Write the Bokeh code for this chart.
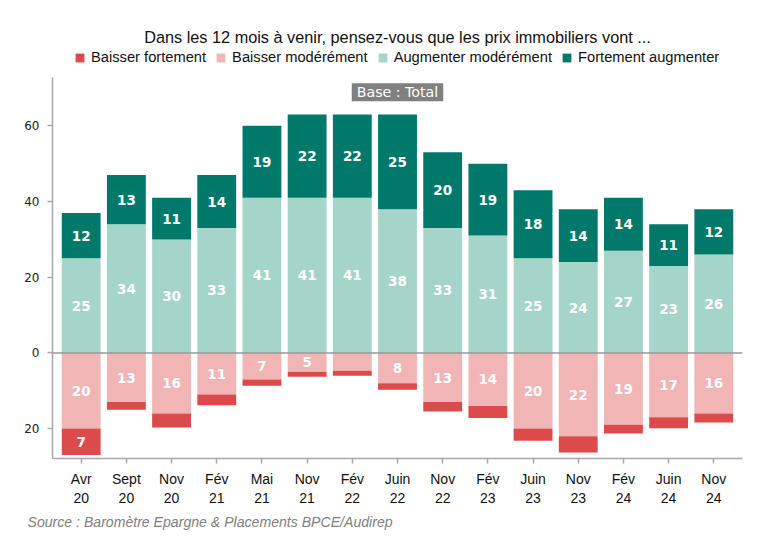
from bokeh.plotting import figure
from bokeh.models import (ColumnDataSource, FactorRange, Range1d, Legend, LegendItem,
                          Label, Span, FixedTicker, Title)
from bokeh.embed import file_html
from bokeh.resources import INLINE
from bokeh.core.properties import value

# ---------------- data ----------------
categories = ["Avr 20", "Sept 20", "Nov 20", "Fév 21", "Mai 21", "Nov 21", "Fév 22", "Juin 22",
              "Nov 22", "Fév 23", "Juin 23", "Nov 23", "Fév 24", "Juin 24", "Nov 24"]
baisser_fortement = [7, 2, 3.7, 2.8, 1.7, 1.3, 1.3, 1.7, 2.5, 3.2, 3.2, 4.3, 2.3, 2.9, 2.4]
baisser_moderement = [20, 13, 16, 11, 7, 5, 4.7, 8, 13, 14, 20, 22, 19, 17, 16]
augmenter_moderement = [25, 34, 30, 33, 41, 41, 41, 38, 33, 31, 25, 24, 27, 23, 26]
fortement_augmenter = [12, 13, 11, 14, 19, 22, 22, 25, 20, 19, 18, 14, 14, 11, 12]

series_names = ["Baisser fortement", "Baisser modérément", "Augmenter modérément", "Fortement augmenter"]
colors = ["#DD4A4C", "#F1B5B5", "#A5D5C8", "#00796B"]
title_text = "Dans les 12 mois à venir, pensez-vous que les prix immobiliers vont ..."
source_text = "Source : Baromètre Epargne & Placements BPCE/Audirep"
base_text = "Base : Total"
y_ticks = [-20, 0, 20, 40, 60]
y_axis_bounds = (-27.9, 72.8)

# ---------------- derived table ----------------
factors = [c.replace(" ", "\n") for c in categories]
am_top = augmenter_moderement
fa_top = [a + f for a, f in zip(augmenter_moderement, fortement_augmenter)]
bm_bot = [-b for b in baisser_moderement]
bf_bot = [-b - f for b, f in zip(baisser_moderement, baisser_fortement)]
src = ColumnDataSource(dict(x=factors, zero=[0] * len(factors), am_top=am_top, fa_top=fa_top,
                            bm_bot=bm_bot, bf_bot=bf_bot))

lx, ly, lt = [], [], []
for i, f in enumerate(factors):
    segs = [
        (augmenter_moderement[i], augmenter_moderement[i] / 2),
        (fortement_augmenter[i], augmenter_moderement[i] + fortement_augmenter[i] / 2),
        (baisser_moderement[i], -baisser_moderement[i] / 2),
        (baisser_fortement[i], -baisser_moderement[i] - baisser_fortement[i] / 2),
    ]
    for v, c in segs:
        if v >= 5:
            lx.append(f); ly.append(c); lt.append(str(int(round(v))))
lab_src = ColumnDataSource(dict(x=lx, y=ly, t=lt))

# ---------------- figure ----------------
# frame spans from the legend row down to the x axis; the y axis line is bounded
W, H = 745, 536
p = figure(x_range=FactorRange(factors=factors, range_padding=0.018, range_padding_units="percent"),
           y_range=Range1d(-27.9, 81.24), width=W, height=H,
           min_border_left=52, min_border_right=W - 742, min_border_top=45, min_border_bottom=H - 458,
           output_backend="svg", toolbar_location=None, outline_line_color=None,
           background_fill_color="white", border_fill_color="white")

w = 0.86
r_am = p.vbar(x="x", bottom="zero", top="am_top", width=w, source=src, fill_color=colors[2], line_color=None)
r_fa = p.vbar(x="x", bottom="am_top", top="fa_top", width=w, source=src, fill_color=colors[3], line_color=None)
r_bm = p.vbar(x="x", bottom="bm_bot", top="zero", width=w, source=src, fill_color=colors[1], line_color=None)
r_bf = p.vbar(x="x", bottom="bf_bot", top="bm_bot", width=w, source=src, fill_color=colors[0], line_color=None)

p.text(x="x", y="y", text="t", source=lab_src, text_color="white", text_font=value("DejaVu Sans"),
       text_font_style="bold", text_font_size="13.5px", text_align="center", text_baseline="middle")

p.add_layout(Span(location=0, dimension="width", line_color="#999999", line_width=1.5))

p.xgrid.visible = False
p.ygrid.visible = False

axis_gray = "#A8A8A8"
for ax in (p.xaxis[0], p.yaxis[0]):
    ax.axis_line_color = axis_gray
    ax.axis_line_width = 1.5
    ax.major_tick_line_color = axis_gray
    ax.major_tick_line_width = 1.5
    ax.major_tick_in = 0
    ax.major_tick_out = 5
    ax.minor_tick_line_color = None

p.yaxis.bounds = y_axis_bounds
p.yaxis.ticker = FixedTicker(ticks=y_ticks)
p.yaxis.major_label_overrides = {t: str(abs(t)) for t in y_ticks}
p.yaxis.major_label_text_font = "DejaVu Sans"
p.yaxis.major_label_text_font_size = "12px"
p.yaxis.major_label_text_color = "#222222"
p.yaxis.major_label_standoff = 8

p.xaxis.major_label_text_font = "Liberation Sans"
p.xaxis.major_label_text_font_size = "14px"
p.xaxis.major_label_text_color = "#111111"
p.xaxis.major_label_standoff = 7

legend = Legend(items=[LegendItem(label=series_names[0], renderers=[r_bf]),
                       LegendItem(label=series_names[1], renderers=[r_bm]),
                       LegendItem(label=series_names[2], renderers=[r_am]),
                       LegendItem(label=series_names[3], renderers=[r_fa])],
                orientation="horizontal", location=(22, 393), glyph_width=11, glyph_height=11,
                label_standoff=6, spacing=9, padding=0, margin=0, border_line_color=None,
                background_fill_alpha=0, label_text_font="Liberation Sans",
                label_text_font_size="14.7px", label_text_color="#111111")
p.add_layout(legend)

p.add_layout(Title(text=title_text, align="center", vertical_align="bottom", standoff=0,
                   text_font="Liberation Sans", text_font_size="16.3px", text_font_style="normal",
                   text_color="#111111"), "above")

p.add_layout(Title(text=source_text, align="left", vertical_align="middle", offset=-25, standoff=8,
                   text_font="Liberation Sans", text_font_size="14.1px", text_font_style="italic",
                   text_color="#808080"), "below")

p.add_layout(Label(x=categories.index("Juin 22") + 0.5, y=68.9, text=base_text,
                   text_font="DejaVu Sans", text_font_size="14.2px", text_color="white",
                   text_align="center", text_baseline="middle",
                   background_fill_color="#808080", padding=(5, 1)))

open("out.html", "w").write(file_html(p, INLINE))
